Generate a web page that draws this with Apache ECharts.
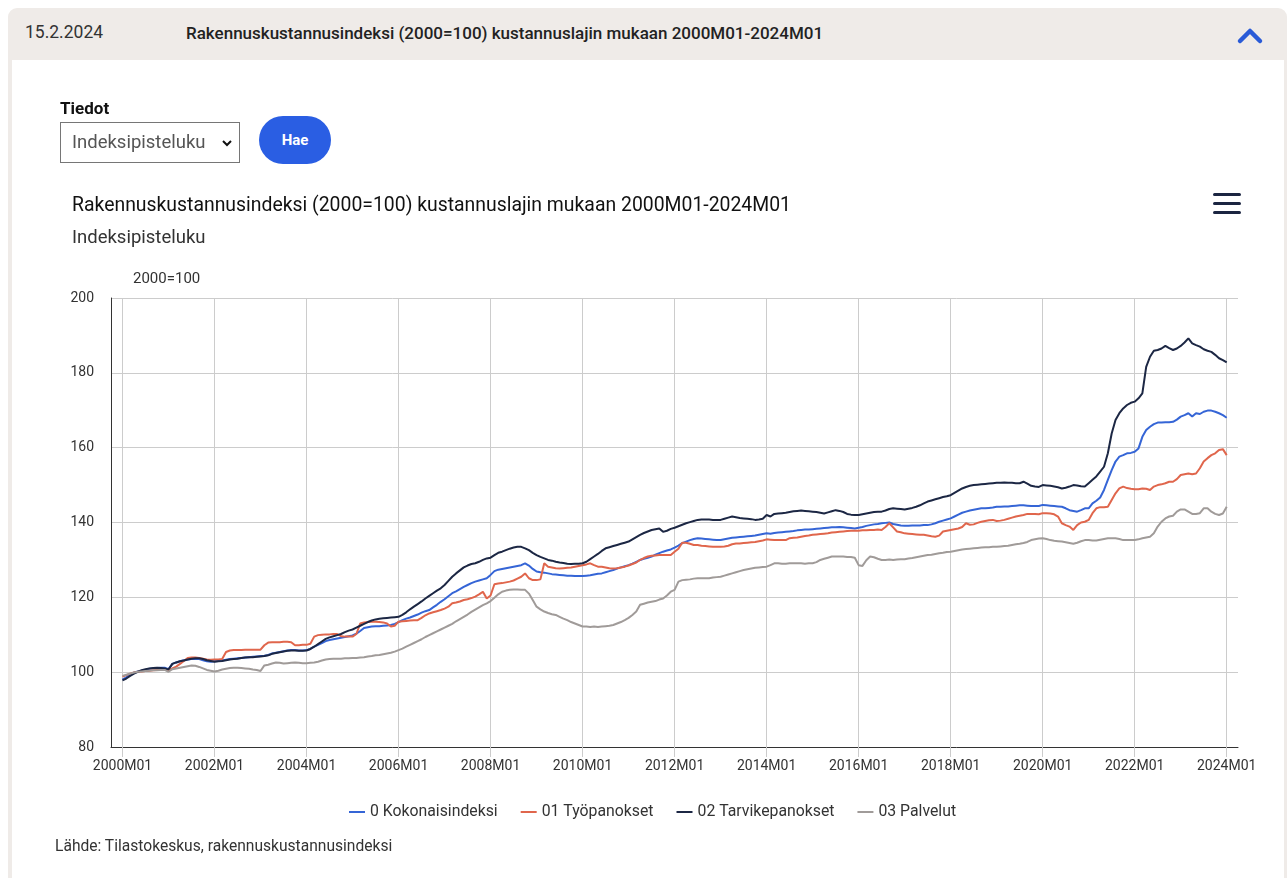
<!DOCTYPE html>
<html>
<head>
<meta charset="utf-8">
<script src="https://cdn.jsdelivr.net/npm/echarts@6/dist/echarts.min.js"></script>
<style>
  body { margin: 0; width: 1287px; height: 878px; position: relative; overflow: hidden; background: #fff; font-family: Roboto, sans-serif; }
  .head { position: absolute; left: 8px; top: 8px; width: 1279px; height: 52px; background: #efebe8; border-radius: 9px 9px 0 0; z-index: 2; }
  .date { position: absolute; left: 17px; top: 14px; font-size: 17.5px; color: #333; }
  .htitle { position: absolute; left: 178px; top: 15px; font-size: 17px; font-weight: 500; color: #222; }
  .border-l { position: absolute; left: 8px; top: 60px; width: 4px; height: 830px; background: #efebe8; z-index: 2; }
  .border-r { position: absolute; left: 1284px; top: 60px; width: 3px; height: 830px; background: #efebe8; z-index: 2; }
  .lbl { position: absolute; left: 60px; top: 98px; font-size: 17px; font-weight: bold; color: #111; z-index: 2; }
  .sel { position: absolute; left: 60px; top: 122px; width: 180px; height: 41px; border: 1px solid #767676; box-sizing: border-box; z-index: 2; }
  .sel span { position: absolute; left: 11px; top: 8px; font-size: 18.5px; color: #555; }
  .btn { position: absolute; left: 259px; top: 116px; width: 72px; height: 48px; border-radius: 24px; background: #2a5ee3; color: #fff; font-weight: bold; font-size: 15px; text-align: center; line-height: 48px; z-index: 2; }
  .menu { position: absolute; left: 1213px; top: 193px; z-index: 2; }
  .menu div { width: 28px; height: 3px; border-radius: 2px; background: #1b2541; margin-bottom: 6px; }
  .src { position: absolute; left: 55px; top: 837px; font-size: 15.6px; color: #333; z-index: 2; }
  #chart { position: absolute; left: 0; top: 0; width: 1287px; height: 878px; z-index: 1; }
</style>
</head>
<body>
<div class="head">
  <div class="date">15.2.2024</div>
  <div class="htitle">Rakennuskustannusindeksi (2000=100) kustannuslajin mukaan 2000M01-2024M01</div>
  <svg style="position:absolute;left:1225px;top:14px" width="36" height="26"><polyline points="7,19 17,9 27,19" fill="none" stroke="#2a5bd7" stroke-width="4.5" stroke-linecap="round" stroke-linejoin="round"/></svg>
</div>
<div class="border-l"></div>
<div class="border-r"></div>
<div class="lbl">Tiedot</div>
<div class="sel"><span>Indeksipisteluku</span>
  <svg style="position:absolute;left:160px;top:16px" width="14" height="10"><polyline points="2,2 6,6 10,2" fill="none" stroke="#111" stroke-width="2"/></svg>
</div>
<div class="btn">Hae</div>
<div class="menu"><div></div><div></div><div></div></div>
<div class="src">Lähde: Tilastokeskus, rakennuskustannusindeksi</div>
<div id="chart"></div>
<script>
// kuukaudet 2000M01 - 2024M01
var months = [];
for (var y = 2000; y <= 2024; y++) {
    for (var m = 1; m <= 12; m++) {
        if (y === 2024 && m > 1) break;
        months.push(y + 'M' + (m < 10 ? '0' + m : m));
    }
}
var seriesNames = ['0 Kokonaisindeksi', '01 Työpanokset', '02 Tarvikepanokset', '03 Palvelut'];
var yTicks = [80, 100, 120, 140, 160, 180, 200];

// 0 Kokonaisindeksi
var kokonais = [
    98.0, 98.6, 99.4, 99.9, 100.2, 100.4, 100.6, 100.9, 101.0, 101.1, 101.2, 101.2,
    100.8, 102.2, 102.6, 102.9, 103.2, 103.4, 103.5, 103.6, 103.5, 103.2, 102.9, 102.8,
    102.9, 103.0, 103.1, 103.3, 103.5, 103.6, 103.7, 103.8, 103.9, 104.0, 104.1, 104.2,
    104.3, 104.4, 104.6, 105.0, 105.2, 105.4, 105.6, 105.8, 105.9, 105.9, 105.8, 105.8,
    105.9, 106.2, 106.8, 107.3, 107.8, 108.3, 108.6, 108.8, 109.0, 109.2, 109.4, 109.6,
    109.8, 110.3, 111.0, 111.8, 112.0, 112.2, 112.3, 112.3, 112.4, 112.5, 112.6, 112.9,
    113.4, 113.9, 114.3, 114.6, 115.0, 115.4, 115.9, 116.3, 116.6, 117.3, 118.0, 118.8,
    119.5, 120.3, 121.1, 121.6, 122.2, 122.8, 123.3, 123.8, 124.2, 124.5, 124.8, 125.1,
    126.0, 127.0, 127.4, 127.6, 127.8, 128.0, 128.2, 128.4, 128.6, 129.1, 128.5, 127.6,
    126.9, 126.7, 126.6, 126.4, 126.2, 126.1, 126.0, 125.9, 125.8, 125.8, 125.7, 125.7,
    125.7, 125.8, 125.9, 126.1, 126.3, 126.4, 126.7, 127.0, 127.3, 127.7, 128.0, 128.3,
    128.6, 129.0, 129.5, 130.0, 130.3, 130.6, 130.9, 131.4, 131.8, 132.2, 132.5, 132.8,
    133.3, 133.8, 134.5, 134.9, 135.3, 135.6, 135.8, 135.7, 135.6, 135.5, 135.4, 135.3,
    135.3, 135.5, 135.7, 135.9, 136.0, 136.1, 136.2, 136.3, 136.4, 136.5, 136.7, 136.9,
    137.1, 137.0, 137.2, 137.3, 137.4, 137.5, 137.6, 137.7, 137.9, 138.0, 138.1, 138.1,
    138.2, 138.3, 138.4, 138.5, 138.6, 138.7, 138.7, 138.8, 138.7, 138.6, 138.5, 138.4,
    138.6, 138.8, 139.1, 139.3, 139.5, 139.6, 139.8, 139.9, 140.0, 139.6, 139.4, 139.2,
    139.1, 139.1, 139.2, 139.2, 139.2, 139.3, 139.3, 139.5, 139.8, 140.2, 140.5, 140.8,
    141.1, 141.6, 142.1, 142.6, 142.9, 143.2, 143.4, 143.6, 143.8, 143.8, 143.9, 144.0,
    144.2, 144.2, 144.3, 144.3, 144.4, 144.5, 144.6, 144.6, 144.5, 144.4, 144.4, 144.4,
    144.7, 144.6, 144.5, 144.4, 144.3, 144.2, 143.8, 143.3, 143.1, 142.9, 143.3, 143.8,
    143.8, 145.1, 145.8, 146.7, 148.7, 151.4, 154.0, 156.3, 157.6, 158.0, 158.5, 158.6,
    158.9, 159.8, 162.9, 164.7, 165.6, 166.3, 166.7, 166.7, 166.8, 166.8, 166.9, 167.5,
    168.3, 168.7, 169.2, 168.3, 169.2, 169.0, 169.6, 169.9, 169.9, 169.6, 169.2, 168.7,
    168.0
];
// 01 Työpanokset
var tyo = [
    98.8, 99.2, 99.6, 99.9, 100.1, 100.2, 100.3, 100.4, 100.5, 100.6, 100.6, 100.7,
    100.6, 101.0, 101.5, 102.2, 103.0, 103.8, 103.9, 103.9, 103.8, 103.6, 103.4, 103.3,
    103.4, 103.4, 103.5, 105.4, 105.8, 105.9, 105.9, 105.9, 106.0, 106.0, 106.0, 106.0,
    106.0, 107.2, 107.9, 108.0, 108.0, 108.0, 108.1, 108.1, 108.0, 107.2, 107.2, 107.3,
    107.3, 107.6, 109.5, 109.9, 110.0, 110.1, 110.1, 110.2, 110.2, 109.6, 109.5, 109.5,
    109.5, 110.2, 113.0, 113.3, 113.4, 113.5, 113.5, 113.4, 113.3, 113.0, 112.2, 112.4,
    113.5, 113.6, 113.7, 113.8, 113.9, 113.9, 114.5, 115.2, 115.7, 116.0, 116.3, 116.6,
    117.0, 117.5, 118.4, 118.6, 118.9, 119.3, 119.5, 119.8, 120.2, 120.8, 121.5, 119.7,
    120.5, 123.5, 123.7, 123.8, 124.0, 124.2, 124.5, 125.0, 125.5, 126.4, 125.1, 124.6,
    124.6, 124.8, 129.1, 128.2, 128.0, 127.8, 127.7, 127.8, 127.9, 128.0, 128.2, 128.4,
    128.6, 128.8, 129.1, 128.6, 128.2, 128.2, 128.0, 127.8, 127.7, 127.8, 128.0, 128.2,
    128.5, 128.9, 129.3, 130.0, 130.5, 130.9, 131.1, 131.2, 131.3, 131.3, 131.3, 131.3,
    132.2, 133.0, 134.6, 134.6, 134.3, 134.0, 134.0, 133.8, 133.7, 133.6, 133.5, 133.5,
    133.5, 133.6, 133.8, 134.2, 134.4, 134.4, 134.5, 134.6, 134.7, 134.8, 135.0, 135.2,
    135.5, 135.4, 135.3, 135.3, 135.3, 135.3, 135.8, 135.9, 136.0, 136.2, 136.4, 136.5,
    136.7, 136.8, 136.9, 137.0, 137.1, 137.3, 137.4, 137.5, 137.6, 137.7, 137.8, 137.8,
    137.8, 137.9, 137.9, 138.0, 138.0, 138.1, 138.0, 138.8, 139.8, 138.7, 137.6, 137.4,
    137.1, 137.0, 136.9, 136.8, 136.7, 136.7, 136.5, 136.3, 136.2, 136.5, 137.6, 137.8,
    138.0, 138.2, 138.4, 138.8, 139.8, 139.4, 139.5, 139.9, 140.2, 140.4, 140.6, 140.7,
    140.4, 140.5, 140.7, 141.0, 141.3, 141.6, 141.8, 142.0, 142.3, 142.3, 142.3, 142.2,
    142.5, 142.5, 142.4, 142.2, 141.6, 139.8, 139.3, 138.9, 138.0, 139.3, 140.0, 140.2,
    140.7, 142.5, 143.8, 144.1, 144.1, 144.2, 146.0, 147.8, 149.1, 149.6, 149.2, 149.0,
    148.9, 148.9, 149.1, 149.0, 148.7, 149.6, 150.0, 150.2, 150.5, 150.9, 150.9, 151.6,
    152.7, 152.9, 153.1, 152.9, 153.1, 154.5, 156.3, 157.2, 158.0, 158.5, 159.4, 159.6,
    158.0
];
// 02 Tarvikepanokset
var tarvike = [
    97.8, 98.3, 99.0, 99.6, 100.1, 100.5, 100.8, 101.0, 101.1, 101.2, 101.1, 101.0,
    100.7, 102.2, 102.6, 102.9, 103.1, 103.4, 103.6, 103.7, 103.7, 103.5, 103.2, 103.0,
    102.8, 102.9, 103.0, 103.2, 103.4, 103.5, 103.6, 103.8, 103.9, 104.0, 104.0, 104.1,
    104.2, 104.3, 104.5, 104.9, 105.1, 105.3, 105.5, 105.7, 105.8, 105.8, 105.7, 105.7,
    105.8, 106.2, 106.8, 107.5, 108.2, 108.9, 109.3, 109.6, 109.9, 110.2, 110.7, 111.1,
    111.4, 111.9, 112.4, 112.9, 113.4, 113.8, 114.1, 114.3, 114.4, 114.5, 114.6, 114.7,
    114.8, 115.3, 116.0, 116.8, 117.5, 118.2, 118.9, 119.7, 120.4, 121.1, 121.8, 122.4,
    123.3, 124.4, 125.5, 126.4, 127.2, 128.0, 128.5, 128.9, 129.1, 129.5, 130.0, 130.4,
    130.6, 131.3, 131.9, 132.2, 132.6, 133.0, 133.3, 133.5, 133.5, 133.1, 132.6, 131.9,
    131.3, 130.8, 130.4, 130.0, 129.8, 129.5, 129.3, 129.2, 129.0, 128.9, 129.0, 129.0,
    129.1, 129.5, 130.2, 130.9, 131.6, 132.4, 133.1, 133.4, 133.7, 134.0, 134.3, 134.6,
    134.9, 135.5, 136.1, 136.7, 137.2, 137.6, 138.0, 138.2, 138.4, 137.5, 137.8, 138.3,
    138.6, 139.0, 139.4, 139.8, 140.1, 140.4, 140.7, 140.8, 140.8, 140.8, 140.7, 140.7,
    140.7, 141.0, 141.3, 141.6, 141.4, 141.2, 141.1, 141.0, 140.9, 140.7, 140.8, 141.0,
    142.0, 141.6, 142.3, 142.4, 142.5, 142.6, 142.8, 143.0, 143.1, 143.2, 143.1, 143.0,
    142.9, 142.8, 142.6, 142.4, 142.7, 143.0, 143.3, 143.1, 142.8, 142.3, 142.1, 142.0,
    142.0, 142.2, 142.4, 142.6, 142.8, 142.9, 142.9, 143.2, 143.6, 143.8, 143.7, 143.6,
    143.5, 143.7, 143.9, 144.2, 144.6, 145.1, 145.6, 145.9, 146.2, 146.5, 146.8, 147.0,
    147.3, 147.9, 148.5, 149.1, 149.5, 149.8, 150.0, 150.1, 150.2, 150.3, 150.4, 150.5,
    150.6, 150.6, 150.7, 150.6, 150.6, 150.5, 150.5, 150.9, 150.4, 149.8, 149.6, 149.5,
    150.0, 149.9, 149.8, 149.6, 149.4, 149.1, 149.3, 149.6, 150.0, 149.9, 149.7, 149.6,
    150.5, 151.4, 152.3, 153.6, 154.9, 158.5, 163.8, 167.4, 169.2, 170.5, 171.4, 172.0,
    172.3, 173.2, 174.5, 181.6, 184.3, 185.9, 186.1, 186.5, 187.2, 186.6, 186.1, 186.5,
    187.2, 188.1, 189.2, 187.9, 187.4, 187.0, 186.3, 185.9, 185.6, 184.8, 183.9, 183.4,
    182.8
];
// 03 Palvelut
var palvelut = [
    99.0, 99.3, 99.6, 99.9, 100.1, 100.2, 100.3, 100.4, 100.5, 100.5, 100.6, 100.6,
    100.1, 100.8, 101.0, 101.2, 101.4, 101.6, 101.8, 101.7, 101.4, 101.0, 100.6, 100.4,
    100.2, 100.4, 100.7, 100.9, 101.1, 101.2, 101.2, 101.1, 101.0, 100.9, 100.7, 100.6,
    100.3, 101.8, 102.0, 102.3, 102.6, 102.5, 102.3, 102.4, 102.5, 102.6, 102.5, 102.4,
    102.4, 102.5, 102.6, 102.8, 103.1, 103.4, 103.5, 103.6, 103.6, 103.6, 103.7, 103.7,
    103.8, 103.8, 103.9, 104.0, 104.2, 104.3, 104.5, 104.6, 104.8, 105.0, 105.2, 105.5,
    105.9, 106.3, 106.8, 107.3, 107.8, 108.3, 108.8, 109.4, 109.9, 110.4, 110.9, 111.4,
    111.9, 112.4, 112.9, 113.6, 114.2, 114.8, 115.4, 116.1, 116.7, 117.3, 117.9, 118.4,
    119.0, 119.9, 120.8, 121.5, 121.8, 122.0, 122.1, 122.1, 122.0, 122.0, 121.0, 119.3,
    117.5, 116.8, 116.2, 115.8, 115.5, 115.3, 114.8, 114.3, 113.9, 113.4, 113.0, 112.6,
    112.2, 112.2, 112.1, 112.2, 112.1, 112.2, 112.3, 112.4, 112.6, 113.0, 113.4, 113.9,
    114.5, 115.3, 116.2, 118.0, 118.3, 118.6, 118.8, 119.0, 119.4, 119.7, 120.5, 121.5,
    122.0, 124.2, 124.6, 124.7, 124.8, 125.0, 125.1, 125.1, 125.1, 125.1, 125.3, 125.4,
    125.5, 125.8, 126.1, 126.4, 126.7, 127.0, 127.3, 127.5, 127.7, 127.9, 128.0, 128.1,
    128.2, 128.6, 129.1, 129.1, 129.0, 129.0, 129.1, 129.1, 129.1, 129.1, 129.0, 129.1,
    129.1, 129.4, 130.0, 130.3, 130.6, 130.9, 130.9, 130.9, 130.9, 130.8, 130.8, 130.6,
    128.6, 128.4, 129.9, 130.9, 130.7, 130.3, 130.0, 130.0, 130.1, 130.0, 130.1, 130.2,
    130.2, 130.4, 130.5, 130.7, 130.9, 131.1, 131.3, 131.4, 131.6, 131.8, 131.9, 132.1,
    132.2, 132.4, 132.6, 132.8, 132.9, 133.0, 133.1, 133.2, 133.3, 133.4, 133.4, 133.5,
    133.5, 133.6, 133.7, 133.8, 134.0, 134.2, 134.3, 134.5, 134.8, 135.3, 135.5, 135.7,
    135.8, 135.6, 135.3, 135.1, 135.0, 134.9, 134.7, 134.5, 134.3, 134.6, 135.0, 135.3,
    135.3, 135.2, 135.2, 135.4, 135.6, 135.8, 135.8, 135.8, 135.6, 135.3, 135.3, 135.3,
    135.3, 135.5, 135.8, 136.0, 136.2, 137.1, 138.9, 140.2, 141.1, 141.6, 141.8, 142.9,
    143.5, 143.5, 142.9, 142.3, 142.3, 142.5, 143.8, 143.8, 142.9, 142.3, 142.0, 142.4,
    144.2
];

var chart = echarts.init(document.getElementById('chart'));
var colors = ['#3565d6', '#e0664c', '#1c2744', '#a09b99'];
var values = [kokonais, tyo, tarvike, palvelut];

var option = {
    animation: false,
    textStyle: { fontFamily: 'Roboto' },
    color: colors,
    title: [
        { text: 'Rakennuskustannusindeksi (2000=100) kustannuslajin mukaan 2000M01-2024M01', left: 67, top: 192,
          textStyle: { fontSize: 19.4, fontWeight: 'normal', color: '#111' } },
        { text: 'Indeksipisteluku', left: 67, top: 224,
          textStyle: { fontSize: 18.5, fontWeight: 'normal', color: '#333' } },
        { text: '2000=100', left: 128, top: 267,
          textStyle: { fontSize: 15, fontWeight: 'normal', color: '#333' } }
    ],
    legend: {
        left: 344, top: 799,
        icon: 'rect', itemWidth: 16, itemHeight: 2, itemGap: 23,
        textStyle: { fontSize: 15.8, color: '#333' },
        data: seriesNames
    },
    grid: [
        { left: 111, right: 49, top: 298, bottom: 131 },
        { left: 122.5, right: 60.3, top: 298, bottom: 131 }
    ],
    xAxis: [
        { gridIndex: 0, type: 'value', min: 0, max: 1,
          axisLine: { show: true, lineStyle: { color: '#333' } },
          axisTick: { show: false }, axisLabel: { show: false }, splitLine: { show: false } },
        { gridIndex: 1, type: 'category', data: months, boundaryGap: false,
          axisLine: { show: false },
          axisTick: { show: true, interval: 23, length: 10, lineStyle: { color: '#ccc' } },
          axisLabel: { interval: 23, fontSize: 14, color: '#333', margin: 12 },
          splitLine: { show: true, interval: 23, lineStyle: { color: '#ccc' } } }
    ],
    yAxis: [
        { gridIndex: 0, type: 'value', min: yTicks[0], max: yTicks[yTicks.length - 1], interval: 20,
          axisLine: { show: true, lineStyle: { color: '#333' } },
          axisTick: { show: false },
          axisLabel: { fontSize: 14, color: '#333', margin: 17 },
          splitLine: { lineStyle: { color: '#ccc' } } },
        { gridIndex: 1, type: 'value', min: yTicks[0], max: yTicks[yTicks.length - 1], show: false }
    ],
    series: seriesNames.map(function (name, i) {
        return {
            name: name,
            type: 'line',
            xAxisIndex: 1,
            yAxisIndex: 1,
            data: values[i],
            showSymbol: false,
            lineStyle: { width: 2 }
        };
    })
};
chart.setOption(option);
</script>
</body>
</html>
